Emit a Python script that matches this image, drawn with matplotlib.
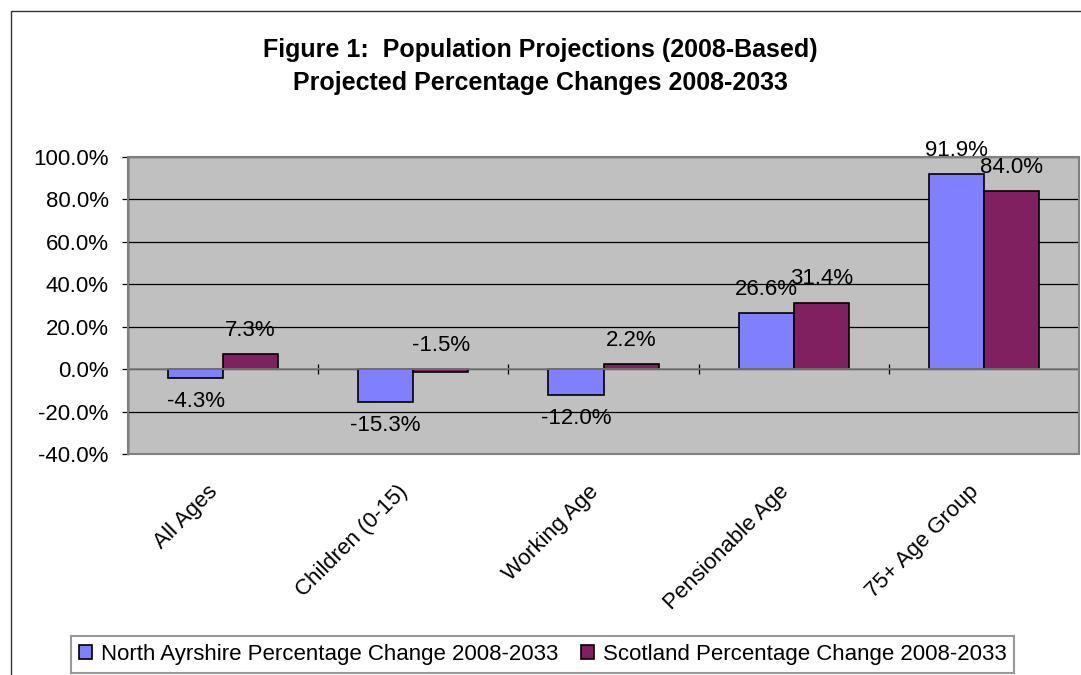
import matplotlib
matplotlib.use("Agg")
import matplotlib.pyplot as plt
from matplotlib.patches import Rectangle
import numpy as np

plt.rcParams['font.family'] = ['Liberation Sans', 'DejaVu Sans']

categories = ["All Ages", "Children (0-15)", "Working Age", "Pensionable Age", "75+ Age Group"]
north_ayrshire = [-4.3, -15.3, -12.0, 26.6, 91.9]
scotland = [7.3, -1.5, 2.2, 31.4, 84.0]
series_names = ["North Ayrshire Percentage Change 2008-2033",
                "Scotland Percentage Change 2008-2033"]
colors = ["#8080FF", "#802060"]

W, H = 1081, 675
fig = plt.figure(figsize=(W / 100, H / 100), dpi=100)

# chart outer border (cut off at right/bottom like the source)
fig.patches.append(Rectangle((11 / W, -0.1), 1.2, 1 - 11 / H + 0.1, transform=fig.transFigure,
                             fill=False, edgecolor="#333333", linewidth=1.0))

ax = fig.add_axes([128 / W, (H - 454) / H, (1079 - 128) / W, (454 - 157) / H])
ax.set_facecolor("#C0C0C0")

x = np.arange(len(categories))
bw = 0.29
b1 = ax.bar(x - bw / 2, north_ayrshire, bw, color=colors[0], edgecolor="black", linewidth=1.2,
            label=series_names[0], zorder=3)
b2 = ax.bar(x + bw / 2, scotland, bw, color=colors[1], edgecolor="black", linewidth=1.2,
            label=series_names[1], zorder=3)

# data labels
for xi, v in zip(x - bw / 2, north_ayrshire):
    off = 17 if v >= 0 else -17
    ax.annotate("%.1f%%" % v, (xi, v), xytext=(0, off), textcoords="offset points",
                ha="center", va="center", fontsize=16, zorder=5)
for xi, v in zip(x + bw / 2, scotland):
    ax.annotate("%.1f%%" % v, (xi, max(v, 0)), xytext=(0, 17), textcoords="offset points",
                ha="center", va="center", fontsize=16, zorder=5)

ax.set_xlim(-0.5, len(categories) - 0.5)
ax.set_ylim(-40, 100)
ax.set_yticks(np.arange(-40, 101, 20))
ax.set_yticklabels(["%.1f%%" % t for t in np.arange(-40, 101, 20)], fontsize=16)
ax.yaxis.grid(True, color="black", linewidth=0.9, zorder=1)
ax.set_axisbelow(True)
ax.tick_params(axis="y", direction="out", length=4, width=0.9, pad=10, colors="black")

# category axis line sits at zero with ticks at category boundaries
ax.spines["bottom"].set_position(("data", 0))
ax.spines["bottom"].set_color("#808080")
ax.spines["bottom"].set_linewidth(1.2)
ax.spines["bottom"].set_zorder(4)
ax.set_xticks(x[:-1] + 0.5)
ax.set_xticklabels([])
ax.tick_params(axis="x", direction="inout", length=7, width=0.9, colors="black")
ax.spines["top"].set_visible(False)
ax.spines["right"].set_visible(False)
ax.spines["left"].set_color("black")
ax.spines["left"].set_linewidth(1.0)
ax.add_patch(Rectangle((0, 0), 1, 1, transform=ax.transAxes, fill=False,
                       edgecolor="#808080", linewidth=1.5, clip_on=False, zorder=4))

for xi, lab in zip(x, categories):
    ax.annotate(lab, (xi, 0), xycoords=("data", "axes fraction"), xytext=(-6, -25),
                textcoords="offset points", ha="right", va="center", rotation=45,
                rotation_mode="anchor", fontsize=16)

fig.text(0.5, 1 - 57 / H, "Figure 1:  Population Projections (2008-Based)", ha="center",
         va="baseline", fontsize=18, fontweight="bold")
fig.text(0.5, 1 - 90 / H, "Projected Percentage Changes 2008-2033", ha="center",
         va="baseline", fontsize=18, fontweight="bold")

leg = fig.legend(handles=[b1, b2], loc="upper left", bbox_to_anchor=(71 / W, 1 - 636 / H),
                 ncol=2, fontsize=16, frameon=True, fancybox=False, edgecolor="#808080",
                 handlelength=0.6, handleheight=0.6, handletextpad=0.4, columnspacing=1.0,
                 borderpad=0.35, borderaxespad=0)
leg.get_frame().set_linewidth(1.5)

fig.savefig("out.png", dpi=100)
